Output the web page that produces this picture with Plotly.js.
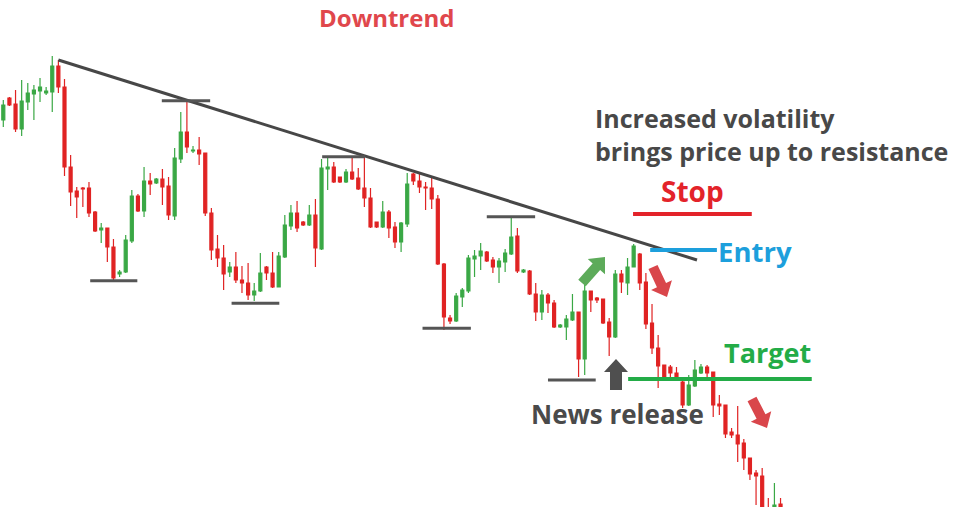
<!DOCTYPE html>
<html>
<head>
<meta charset="utf-8">
<script src="https://cdn.plot.ly/plotly-3.0.1.min.js"></script>
<style>html,body{margin:0;padding:0;background:#fff;}#chart{width:978px;height:507px;}</style>
</head>
<body>
<div id="chart"></div>
<script>
// Candle data (arbitrary price units)
const openP  = [387,409,403,378,405,413,416,414,415,441,420,340,316,319,319,295,277,279,260,233,235,266,311,296,326,324,328,321,291,348,375,356,357,354,294,258,249,235,240,227,224,212,216,240,234,220,250,281,294,285,282,292,258,338,340,330,325,335,329,319,309,285,280,295,280,265,283,333,326,320,319,308,243,189,186,210,216,248,251,255,247,240,245,253,271,235,236,213,195,212,204,180,180,187,195,148,216,209,208,185,170,233,224,240,253,225,184,159,142,140,134,125,102,121,134,140,135,103,102,75,72,64,49,34,31,-1,-2,3];
const highP  = [407,410,417,427,424,422,429,420,451,447,428,352,320,320,325,296,284,279,268,237,272,317,313,340,334,329,338,330,359,395,406,361,370,354,299,272,262,245,255,241,244,224,254,241,255,255,292,302,306,286,302,308,348,349,345,330,338,350,339,352,319,285,306,297,285,285,334,334,334,325,329,312,244,192,214,219,252,257,264,256,250,249,258,289,279,238,237,224,217,214,207,183,192,213,195,224,216,210,208,189,237,237,249,263,254,234,203,172,142,142,140,130,132,147,143,142,135,112,102,79,101,68,49,37,39,9,24,9];
const lowP   = [380,401,375,371,397,387,405,412,395,414,331,301,289,300,290,275,264,245,227,230,234,264,295,290,312,323,302,287,287,344,354,354,342,291,247,240,217,230,224,214,207,206,215,227,219,220,249,277,275,281,281,240,257,317,324,324,324,327,317,300,279,279,279,269,259,255,280,322,314,297,298,242,177,183,185,200,214,230,237,245,234,224,235,252,234,234,212,186,187,194,179,179,167,186,130,132,195,204,183,151,169,214,212,240,217,178,153,119,129,130,127,99,101,120,133,130,90,92,69,69,45,37,27,2,-18,-30,-5,-5];
const closeP = [402,402,378,406,414,417,420,416,441,420,340,315,310,318,294,276,279,260,229,235,267,311,296,326,323,328,320,292,349,375,360,357,353,294,257,249,233,240,227,224,212,216,234,234,220,251,282,294,279,282,292,259,339,340,325,325,335,328,318,309,280,280,295,279,265,284,323,326,320,319,308,243,190,186,211,217,249,251,256,246,240,246,254,270,236,237,213,195,212,204,180,182,188,195,148,216,207,207,184,170,233,225,240,261,224,183,159,141,130,134,130,102,122,137,140,134,102,101,73,72,63,49,33,31,-13,-24,2,-2];
const candleIndex = openP.map((_, i) => i);

// Chart levels (index, price)
const trendLine = {x0: 9, y0: 447, x1: 113.35, y1: 247};
const levelLines = [
  {x0: 14.2, x1: 21.9, y: 226.3},
  {x0: 25.9, x1: 33.8, y: 406.3},
  {x0: 37.3, x1: 45.1, y: 203.7},
  {x0: 52.1, x1: 59.1, y: 350.3},
  {x0: 68.5, x1: 76.4, y: 178.7},
  {x0: 79.0, x1: 86.9, y: 290.3},
  {x0: 89.0, x1: 96.8, y: 127}
];
const stopLine   = {x0: 102.9, x1: 122.3, y: 293};
const entryLine  = {x0: 105.7, x1: 116.6, y: 257};
const targetLine = {x0: 102.1, x1: 132.1, y: 128};

const W = 978, H = 507;
const RED = '#e02323', GREEN = '#3aa845';

const trace = {
  type: 'candlestick',
  x: candleIndex, open: openP, high: highP, low: lowP, close: closeP,
  increasing: {line: {color: GREEN, width: 1.2}, fillcolor: GREEN},
  decreasing: {line: {color: RED, width: 1.2}, fillcolor: RED},
  hoverinfo: 'skip', showlegend: false
};

function px(x, y) { return [x / W, 1 - y / H]; }
function arrowPath(tx, ty, hx, hy, shaftW, headW, headL) {
  const dx = hx - tx, dy = hy - ty, L = Math.hypot(dx, dy);
  const ux = dx / L, uy = dy / L, nx = -uy, ny = ux;
  const nkx = hx - ux * headL, nky = hy - uy * headL;
  const pts = [
    [tx + nx * shaftW / 2, ty + ny * shaftW / 2],
    [nkx + nx * shaftW / 2, nky + ny * shaftW / 2],
    [nkx + nx * headW / 2, nky + ny * headW / 2],
    [hx, hy],
    [nkx - nx * headW / 2, nky - ny * headW / 2],
    [nkx - nx * shaftW / 2, nky - ny * shaftW / 2],
    [tx - nx * shaftW / 2, ty - ny * shaftW / 2]
  ].map(p => px(p[0], p[1]));
  return 'M' + pts.map(p => p[0].toFixed(5) + ',' + p[1].toFixed(5)).join(' L') + ' Z';
}

const shapes = [];
shapes.push({type: 'line', xref: 'x', yref: 'y', x0: trendLine.x0, y0: trendLine.y0, x1: trendLine.x1, y1: trendLine.y1, line: {color: '#474747', width: 3}});
levelLines.forEach(l => shapes.push({type: 'line', xref: 'x', yref: 'y', x0: l.x0, x1: l.x1, y0: l.y, y1: l.y, line: {color: '#555555', width: 3}}));
shapes.push({type: 'line', xref: 'x', yref: 'y', x0: stopLine.x0, x1: stopLine.x1, y0: stopLine.y, y1: stopLine.y, line: {color: '#e3232a', width: 4}});
shapes.push({type: 'line', xref: 'x', yref: 'y', x0: entryLine.x0, x1: entryLine.x1, y0: entryLine.y, y1: entryLine.y, line: {color: '#1d9fdc', width: 4}});
shapes.push({type: 'line', xref: 'x', yref: 'y', x0: targetLine.x0, x1: targetLine.x1, y0: targetLine.y, y1: targetLine.y, line: {color: '#23ac47', width: 4}});
// block arrows
const arrows = [
  {t: [616, 390], h: [616, 359], sw: 12, hw: 24, hl: 13, c: '#4f4f4f'},
  {t: [582, 283], h: [605, 257], sw: 10, hw: 23, hl: 13, c: '#5dab5a'},
  {t: [653, 267], h: [667, 297], sw: 10, hw: 23, hl: 13, c: '#d9464b'},
  {t: [752, 399], h: [767, 428], sw: 10, hw: 23, hl: 13, c: '#d9464b'}
];
arrows.forEach(a => shapes.push({type: 'path', xref: 'paper', yref: 'paper', path: arrowPath(a.t[0], a.t[1], a.h[0], a.h[1], a.sw, a.hw, a.hl), fillcolor: a.c, line: {width: 0}}));

function txt(text, x, y, color, size, xanchor, yanchor) {
  const p = px(x, y);
  return {text: text, xref: 'paper', yref: 'paper', x: p[0], y: p[1], xanchor: xanchor || 'left', yanchor: yanchor || 'middle', showarrow: false,
    align: 'left', borderpad: 0,
    font: {family: 'Open Sans, sans-serif', size: size, color: color, weight: 700}};
}
const annotations = [
  txt('Downtrend', 386, 0, '#e0474c', 24, 'center', 'top'),
  txt('Increased volatility<br>brings price up to resistance', 594, 134, '#484848', 25),
  txt('Stop', 692, 191, '#e3232a', 28, 'center'),
  txt('Entry', 717, 251, '#1d9fdc', 27.5),
  txt('Target', 723, 352, '#23ac47', 27),
  txt('News release', 530, 414, '#4a4a4a', 26)
];

const layout = {
  width: W, height: H,
  margin: {l: 0, r: 0, t: 0, b: 0},
  paper_bgcolor: '#ffffff', plot_bgcolor: '#ffffff',
  showlegend: false,
  xaxis: {range: [-3.3 / 6.12, (W - 3.3) / 6.12], visible: false, rangeslider: {visible: false}, fixedrange: true},
  yaxis: {range: [0, H], visible: false, fixedrange: true},
  shapes: shapes,
  annotations: annotations
};

Plotly.newPlot('chart', [trace], layout, {staticPlot: true, displayModeBar: false});
</script>
</body>
</html>
